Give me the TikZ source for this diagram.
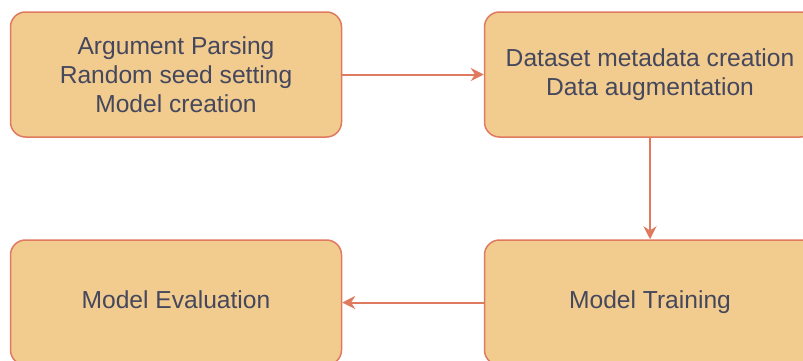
\documentclass[tikz,border=0pt]{standalone}
\usepackage{tikz}
\usepackage{xcolor}
\usepackage{fontspec}
\setmainfont{Liberation Sans}
\usetikzlibrary{arrows.meta}
\definecolor{stepfill}{HTML}{F2CC8F}
\definecolor{stepline}{HTML}{E07A5F}
\definecolor{steptext}{HTML}{45475C}

\begin{document}
\begin{tikzpicture}[x=1pt,y=1pt,
            stagebox/.style={draw=stepline,line width=0.75pt,fill=stepfill,rounded corners=7.5pt,
                minimum width=165.5pt,minimum height=62.5pt,align=center,text=steptext,
                font=\fontsize{12.3}{14.5}\selectfont},
            flow/.style={draw=stepline,line width=1pt,-{Stealth[length=6.5pt,width=6.5pt]}}]
            \clip (0,0) rectangle (401.5,180);
            \node[stagebox] (setup) at (88,142.75) {Argument Parsing\\Random seed setting\\Model creation};
            \node[stagebox] (data) at (325,142.75) {Dataset metadata creation\\Data augmentation};
            \node[stagebox] (training) at (325,28.75) {Model Training};
            \node[stagebox] (evaluation) at (88,28.75) {Model Evaluation\vphantom{g}};
            
            \draw[flow] (setup) -- (data);
            \draw[flow] (data) -- (training);
            \draw[flow] (training) -- (evaluation);
        \end{tikzpicture}
\end{document}
